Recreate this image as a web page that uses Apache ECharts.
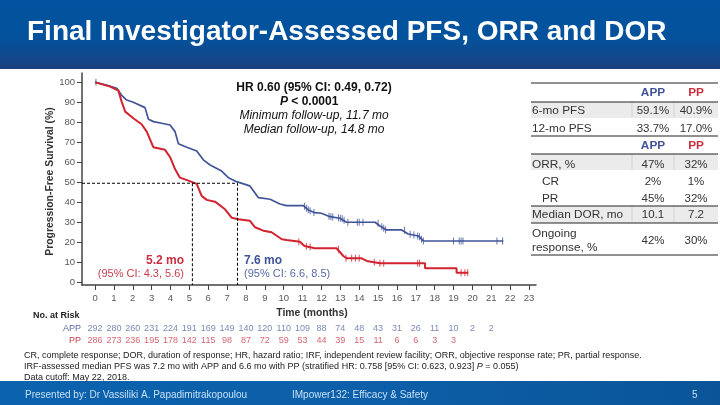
<!DOCTYPE html>
<html>
<head>
<meta charset="utf-8">
<title>Final Investigator-Assessed PFS, ORR and DOR</title>
<style>
html, body { margin: 0; padding: 0; background: #fff; }
#main { width: 720px; height: 405px; }
</style>
</head>
<body>
<div id="main"></div>
<script src="https://cdn.jsdelivr.net/npm/echarts@6/dist/echarts.min.js"></script>
<script>
// Kaplan-Meier curves
var appTime = [0, 0.6, 1.15, 1.4, 1.68, 2.03, 2.65, 2.83, 3.1, 3.53, 3.98, 4.24, 4.42, 4.86, 5.39, 5.74, 6.1, 6.71, 7.07, 7.5, 8.2, 8.66, 9.28, 9.8, 10.15, 11.04, 11.3, 11.65, 12, 12.45, 12.98, 13.33, 14.84, 15.1, 15.45, 16.25, 16.6, 17.13, 17.4, 21.64];
var appSurv = [100, 98.6, 97, 93.6, 91.1, 90, 87.3, 81.5, 80.3, 79.5, 78.6, 75.3, 69.2, 67.5, 65.6, 61.2, 58.6, 55.6, 52.3, 50.3, 48.2, 42.3, 41.5, 39.15, 38.3, 38.3, 36.15, 34.8, 34.5, 32.8, 32, 30, 30, 28.15, 26.15, 26.15, 24.15, 23.15, 20.65, 20.65];
var ppTime = [0, 0.8, 1.24, 1.41, 1.6, 2.03, 2.47, 2.74, 3.09, 3.71, 3.98, 4.24, 4.5, 4.95, 5.39, 5.65, 5.92, 6.36, 6.89, 7.24, 7.6, 8.2, 8.48, 8.92, 9.36, 9.9, 10.15, 10.86, 11.1, 11.65, 12.8, 13.16, 13.33, 14.13, 14.4, 15.1, 17.49, 17.49, 19.16, 19.16, 19.78];
var ppSurv = [100, 97.8, 95.8, 90.3, 85.3, 82, 79, 75.3, 67.5, 66.2, 62.5, 56.6, 52.3, 50.8, 49.2, 43.2, 41.2, 40.3, 36.5, 32.3, 31.5, 30.8, 27.5, 25.8, 25, 21.5, 21.15, 20.3, 18.15, 17, 17, 13.15, 12, 12, 10.65, 9.5, 9.5, 7, 7, 4.8, 4.8];

// censor ticks
var appCensorTime = [0.05, 11.1, 11.2, 11.3, 11.4, 11.6, 12.4, 12.5, 12.6, 12.9, 13, 13.1, 13.2, 13.4, 13.9, 14, 14.2, 15, 15.2, 15.3, 15.4, 16.4, 16.7, 16.9, 17.1, 17.2, 17.3, 17.4, 19, 19.3, 19.4, 19.5, 21.3, 21.6];
var appCensorSurv = [100, 38, 37, 36.2, 35.8, 34.9, 33, 32.8, 32.6, 32.2, 32, 31.8, 31, 30, 30, 30, 30, 29.5, 27.8, 27, 26.3, 26, 24, 23.7, 23.2, 22.8, 21.5, 20.7, 20.65, 20.65, 20.65, 20.65, 20.65, 20.65];
var ppCensorTime = [10.8, 11.2, 11.4, 12.9, 13.3, 13.6, 13.8, 14, 14.8, 15.1, 15.3, 17.1, 17.2, 19.4, 19.6, 19.75];
var ppCensorSurv = [20.3, 18, 17.6, 16.5, 12, 12, 12, 12, 10, 9.5, 9.5, 9.5, 9.5, 4.8, 4.8, 4.8];

// median guides
var medianLevel = 49.5;
var appMedian = 7.55;
var ppMedian = 5.16;

var xTicks = [0, 1, 2, 3, 4, 5, 6, 7, 8, 9, 10, 11, 12, 13, 14, 15, 16, 17, 18, 19, 20, 21, 22, 23];
var yTicks = [0, 10, 20, 30, 40, 50, 60, 70, 80, 90, 100];

// numbers at risk, one per month from 0
var appAtRisk = [292, 280, 260, 231, 224, 191, 169, 149, 140, 120, 110, 109, 88, 74, 48, 43, 31, 26, 11, 10, 2, 2];
var ppAtRisk = [286, 273, 236, 195, 178, 142, 115, 98, 87, 72, 59, 53, 44, 39, 15, 11, 6, 6, 3, 3];

var tableRows = [
    ['', 'APP', 'PP'],
    ['6-mo PFS', '59.1%', '40.9%'],
    ['12-mo PFS', '33.7%', '17.0%'],
    ['', 'APP', 'PP'],
    ['ORR, %', '47%', '32%'],
    ['CR', '2%', '1%'],
    ['PR', '45%', '32%'],
    ['Median DOR, mo', '10.1', '7.2'],
    ['Ongoing\nresponse, %', '42%', '30%']
];
var tableRowY = [93, 111, 129, 146, 165, 182, 199, 215, 241];
var tableLineY = [83, 102, 136, 154, 206, 223, 255];
var tableShadeY = [[102, 16], [154, 16], [206, 17]];
var tableColX = [632, 674];

var footnotes = [
    'CR, complete response; DOR, duration of response; HR, hazard ratio; IRF, independent review facility; ORR, objective response rate; PR, partial response.',
    'IRF-assessed median PFS was 7.2 mo with APP and 6.6 mo with PP (stratified HR: 0.758 [95% CI: 0.623, 0.923] {i|P} = 0.055)',
    'Data cutoff: May 22, 2018.'
];

var BLUE = '#3f5499';
var RED = '#d2232f';
var FONT = '"Liberation Sans", Arial, sans-serif';
var X_MIN = -0.69, X_MAX = 23.37, Y_MIN = -1.35, Y_MAX = 104.6;

function zip(a, b) {
    return a.map(function (v, i) { return [v, b[i]]; });
}

function text(x, y, str, size, color, extra) {
    var style = {
        x: x, y: y, text: str, fontFamily: FONT, fontSize: size, fill: color,
        align: 'left', verticalAlign: 'middle'
    };
    for (var k in extra) style[k] = extra[k];
    return { type: 'text', z: 20, style: style };
}

function rect(x, y, w, h, fill, z) {
    return { type: 'rect', z: z || 1, shape: { x: x, y: y, width: w, height: h }, style: { fill: fill } };
}

function line(x1, y1, x2, y2, color, width) {
    return { type: 'line', z: 10, shape: { x1: x1, y1: y1, x2: x2, y2: y2 }, style: { stroke: color, lineWidth: width } };
}

var graphics = [];

// header and footer bands
graphics.push(rect(0, 0, 720, 69, new echarts.graphic.LinearGradient(0, 0, 0, 1, [
    { offset: 0, color: '#02529f' },
    { offset: 0.55, color: '#04529c' },
    { offset: 1, color: '#1b4080' }
])));
graphics.push(rect(0, 381, 720, 24, new echarts.graphic.LinearGradient(0, 0, 1, 0, [
    { offset: 0, color: '#0b62ad' },
    { offset: 0.5, color: '#0d5fa9' },
    { offset: 1, color: '#0a5598' }
])));
graphics.push(text(27, 32, 'Final Investigator-Assessed PFS, ORR and DOR', 28, '#fff', { fontWeight: 'bold' }));
graphics.push(text(25, 395, 'Presented by: Dr Vassiliki A. Papadimitrakopoulou', 10, '#c4e0f4'));
graphics.push(text(292, 395, 'IMpower132: Efficacy & Safety', 10, '#c4e0f4'));
graphics.push(text(692, 395, '5', 10, '#c4e0f4'));

// chart annotations
graphics.push(text(314, 88, 'HR 0.60 (95% CI: 0.49, 0.72)', 12, '#111', { fontWeight: 'bold', align: 'center' }));
graphics.push(text(288, 102, 'P', 12, '#111', { fontWeight: 'bold', fontStyle: 'italic', align: 'right' }));
graphics.push(text(288, 102, ' < 0.0001', 12, '#111', { fontWeight: 'bold' }));
graphics.push(text(314, 116, 'Minimum follow-up, 11.7 mo', 12, '#111', { fontStyle: 'italic', align: 'center' }));
graphics.push(text(314, 130, 'Median follow-up, 14.8 mo', 12, '#111', { fontStyle: 'italic', align: 'center' }));
graphics.push(text(184, 261, '5.2 mo', 12, '#c8303f', { fontWeight: 'bold', align: 'right' }));
graphics.push(text(184, 274, '(95% CI: 4.3, 5.6)', 11, '#c8404e', { align: 'right' }));
graphics.push(text(244, 261, '7.6 mo', 12, BLUE, { fontWeight: 'bold' }));
graphics.push(text(244, 274, '(95% CI: 6.6, 8.5)', 11, '#5a6ba5'));
graphics.push(text(33, 316, 'No. at Risk', 9, '#222', { fontWeight: 'bold' }));

// table
tableShadeY.forEach(function (s) {
    graphics.push(rect(531, s[0], 187, s[1], '#ebebeb'));
    tableColX.forEach(function (x) {
        graphics.push(line(x, s[0], x, s[0] + s[1], '#d4d4d4', 1));
    });
});
tableLineY.forEach(function (y) {
    graphics.push(line(531, y, 718, y, '#222', 1));
});
tableRows.forEach(function (row, i) {
    var isHeader = row[0] === '';
    var indent = row[0] === 'CR' || row[0] === 'PR';
    if (!isHeader) {
        graphics.push(text(indent ? 542 : 532, tableRowY[i], row[0], 11.8, '#333', { lineHeight: 14 }));
    }
    graphics.push(text(653, tableRowY[i], row[1], isHeader ? 11.8 : 11.5, isHeader ? BLUE : '#333', { align: 'center', fontWeight: isHeader ? 'bold' : 'normal' }));
    graphics.push(text(696, tableRowY[i], row[2], isHeader ? 11.8 : 11.5, isHeader ? '#c8303f' : '#333', { align: 'center', fontWeight: isHeader ? 'bold' : 'normal' }));
});

// footnotes
footnotes.forEach(function (note, i) {
    graphics.push(text(24, 355.5 + i * 11, note, 9, '#222', {
        rich: { i: { fontFamily: FONT, fontSize: 9, fontStyle: 'italic', fill: '#222' } }
    }));
});

var myChart = echarts.init(document.getElementById('main'), null, { renderer: 'canvas' });

function censorSeries(name, t, s, color) {
    return {
        name: name, type: 'scatter', xAxisIndex: 0, yAxisIndex: 0, data: zip(t, s),
        symbol: 'rect', symbolSize: [1, 7], itemStyle: { color: color }, z: 4, silent: true
    };
}

function riskSeries(name, values, color) {
    return {
        name: name, type: 'scatter', xAxisIndex: 1, yAxisIndex: 1, symbolSize: 0, silent: true,
        data: values.map(function (v, i) { return [i, name, v]; }),
        label: {
            show: true, position: 'inside', color: color, fontSize: 9, fontFamily: FONT,
            formatter: function (p) { return p.value[2]; }
        }
    };
}

var option = {
    animation: false,
    backgroundColor: '#fff',
    textStyle: { fontFamily: FONT },
    graphic: graphics,
    grid: [
        { left: 82, width: 454, top: 73, height: 212 },
        { left: 82, width: 454, top: 323, height: 23 }
    ],
    xAxis: [{
        type: 'value', gridIndex: 0, min: X_MIN, max: X_MAX,
        name: 'Time (months)', nameLocation: 'middle', nameGap: 22,
        nameTextStyle: { fontSize: 10.4, fontWeight: 'bold', color: '#333', fontFamily: FONT, padding: [0, 0, 0, 6] },
        splitLine: { show: false },
        axisLine: { onZero: false, lineStyle: { color: '#444', width: 1.5 } },
        axisTick: { length: 5, customValues: xTicks, lineStyle: { color: '#444' } },
        axisLabel: { customValues: xTicks, color: '#595959', fontSize: 9.5, margin: 8, fontFamily: FONT }
    }, {
        type: 'value', gridIndex: 1, min: X_MIN, max: X_MAX, show: false
    }],
    yAxis: [{
        type: 'value', gridIndex: 0, min: Y_MIN, max: Y_MAX,
        name: 'Progression-Free Survival (%)', nameLocation: 'middle', nameGap: 27, nameMoveOverlap: false,
        nameTextStyle: { fontSize: 10.4, fontWeight: 'bold', color: '#333', fontFamily: FONT, padding: [0, 5, 0, 0] },
        splitLine: { show: false },
        axisLine: { onZero: false, lineStyle: { color: '#444', width: 1.5 } },
        axisTick: { length: 5, customValues: yTicks, lineStyle: { color: '#444' } },
        axisLabel: { customValues: yTicks, color: '#595959', fontSize: 9.5, margin: 7, fontFamily: FONT }
    }, {
        type: 'category', gridIndex: 1, inverse: true,
        data: [
            { value: 'APP', textStyle: { color: '#5a6ba5' } },
            { value: 'PP', textStyle: { color: '#c8404e' } }
        ],
        axisLine: { show: false }, axisTick: { show: false },
        axisLabel: { interval: 0, fontSize: 9, margin: 1, fontFamily: FONT }
    }],
    series: [{
        name: 'Median guide', type: 'line', showSymbol: false, symbol: 'none', silent: true, z: 5,
        data: [[X_MIN, medianLevel], [appMedian, medianLevel], [appMedian, Y_MIN]],
        lineStyle: { color: '#000', width: 1, type: [3, 2] }
    }, {
        name: 'Median guide PP', type: 'line', showSymbol: false, symbol: 'none', silent: true, z: 5,
        data: [[ppMedian, medianLevel], [ppMedian, Y_MIN]],
        lineStyle: { color: '#000', width: 1, type: [3, 2] }
    }, {
        name: 'APP', type: 'line', showSymbol: false, symbol: 'none', z: 3,
        data: zip(appTime, appSurv), lineStyle: { color: BLUE, width: 1.7 }
    }, {
        name: 'PP', type: 'line', showSymbol: false, symbol: 'none', z: 4,
        data: zip(ppTime, ppSurv), lineStyle: { color: RED, width: 2 }
    },
    censorSeries('APP censored', appCensorTime, appCensorSurv, BLUE),
    censorSeries('PP censored', ppCensorTime, ppCensorSurv, RED),
    riskSeries('APP', appAtRisk, '#5a6ba5'),
    riskSeries('PP', ppAtRisk, '#c8404e')
    ]
};

myChart.setOption(option);
</script>
</body>
</html>
